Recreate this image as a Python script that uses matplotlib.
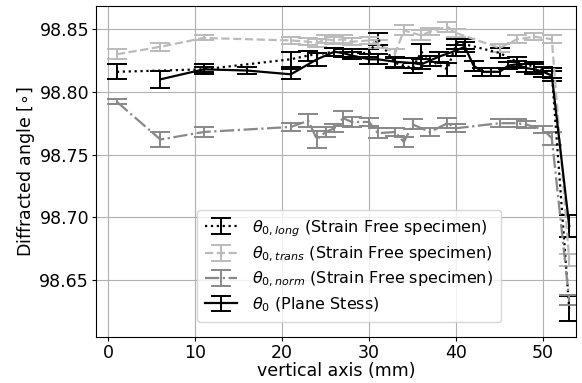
import numpy as np
import matplotlib
matplotlib.use("Agg")
import matplotlib.pyplot as plt

# theta_0,long (strain free specimen)
x_long = [1, 11, 21, 23, 26, 28, 30, 31, 33, 35, 36, 37, 39, 40, 41, 45, 47, 49, 51, 53]
y_long = [98.816, 98.818, 98.826, 98.829, 98.832, 98.831, 98.831, 98.842, 98.823, 98.819,
          98.832, 98.825, 98.818, 98.838, 98.838, 98.831, 98.824, 98.820, 98.815, 98.627]
e_long = [0.006, 0.002, 0.006, 0.004, 0.003, 0.003, 0.003, 0.005, 0.004, 0.004,
          0.006, 0.004, 0.005, 0.004, 0.004, 0.004, 0.004, 0.004, 0.004, 0.010]

# theta_0,trans (strain free specimen)
x_trans = [1, 6, 11, 21, 23, 24, 25, 26, 27, 28, 30, 31, 33, 34, 36, 37, 39, 40, 45, 47, 49, 51, 53]
y_trans = [98.830, 98.836, 98.843, 98.841, 98.840, 98.839, 98.842, 98.841, 98.842, 98.840,
           98.841, 98.838, 98.831, 98.849, 98.845, 98.848, 98.852, 98.847, 98.835, 98.842,
           98.844, 98.842, 98.666]
e_trans = [0.004, 0.003, 0.002, 0.003, 0.003, 0.003, 0.003, 0.003, 0.003, 0.003,
           0.003, 0.003, 0.003, 0.004, 0.004, 0.003, 0.004, 0.003, 0.003, 0.003,
           0.003, 0.003, 0.005]

# theta_0,norm (strain free specimen)
x_norm = [1, 6, 11, 21, 23, 24, 25, 26, 27, 28, 30, 31, 33, 34, 35, 37, 39, 40, 45, 47, 48, 50, 51, 53]
y_norm = [98.792, 98.762, 98.768, 98.772, 98.777, 98.762, 98.768, 98.771, 98.779, 98.776,
          98.776, 98.767, 98.768, 98.760, 98.774, 98.768, 98.775, 98.771, 98.775, 98.775,
          98.774, 98.770, 98.763, 98.634]
e_norm = [0.002, 0.006, 0.004, 0.003, 0.005, 0.007, 0.004, 0.003, 0.006, 0.004,
          0.003, 0.004, 0.003, 0.004, 0.004, 0.003, 0.004, 0.003, 0.003, 0.003,
          0.003, 0.003, 0.005, 0.004]

# theta_0 (plane stress)
x_ps = [6, 11, 16, 21, 24, 26, 27, 28, 30, 31, 33, 35, 36, 38, 40, 41, 42, 43, 44, 45,
        46, 47, 48, 49, 50, 51, 53]
y_ps = [98.810, 98.818, 98.817, 98.814, 98.826, 98.832, 98.831, 98.829, 98.826, 98.826,
        98.824, 98.823, 98.822, 98.828, 98.833, 98.836, 98.821, 98.816, 98.816, 98.816,
        98.821, 98.822, 98.819, 98.818, 98.816, 98.813, 98.693]
e_ps = [0.007, 0.004, 0.003, 0.004, 0.005, 0.003, 0.003, 0.003, 0.004, 0.004,
        0.004, 0.004, 0.004, 0.004, 0.004, 0.004, 0.004, 0.003, 0.003, 0.003,
        0.003, 0.003, 0.003, 0.004, 0.004, 0.004, 0.009]

fig = plt.figure(figsize=(5.82, 3.83), dpi=100)
ax = fig.add_axes([0.165, 0.12, 0.825, 0.864])

cap = 7
ax.errorbar(x_long, y_long, yerr=e_long, color="black", ls=":", lw=1.6, capsize=cap,
            elinewidth=1.4, capthick=1.4, label=r"$\theta_{0,long}$ (Strain Free specimen)")
ax.errorbar(x_trans, y_trans, yerr=e_trans, color="#bbbbbb", ls="--", lw=1.6, capsize=cap,
            elinewidth=1.4, capthick=1.4, label=r"$\theta_{0,trans}$ (Strain Free specimen)")
ax.errorbar(x_norm, y_norm, yerr=e_norm, color="#888888", ls="-.", lw=1.6, capsize=cap,
            elinewidth=1.4, capthick=1.4, label=r"$\theta_{0,norm}$ (Strain Free specimen)")
ax.errorbar(x_ps, y_ps, yerr=e_ps, color="black", ls="-", lw=1.6, capsize=cap,
            elinewidth=1.4, capthick=1.4, label=r"$\theta_0$ (Plane Stess)")

ax.set_xlim(-1.4, 53.8)
ax.set_ylim(98.6044, 98.8684)
ax.set_xticks([0, 10, 20, 30, 40, 50])
ax.set_yticks([98.65, 98.70, 98.75, 98.80, 98.85])
ax.set_yticklabels(["98.65", "98.70", "98.75", "98.80", "98.85"])
ax.tick_params(labelsize=12.5, length=3, pad=2)
ax.grid(True, color="#b0b0b0", lw=0.8)
ax.set_xlabel("vertical axis (mm)", fontsize=12.5, labelpad=0)
ax.set_ylabel(r"Diffracted angle [$\circ$]", fontsize=12.5, labelpad=2)

ax.legend(loc="lower center", bbox_to_anchor=(0.527, 0.022), fontsize=11.5,
          handlelength=2.0, borderpad=0.5, labelspacing=0.38, handletextpad=0.9)

fig.savefig("out.png", dpi=100)
